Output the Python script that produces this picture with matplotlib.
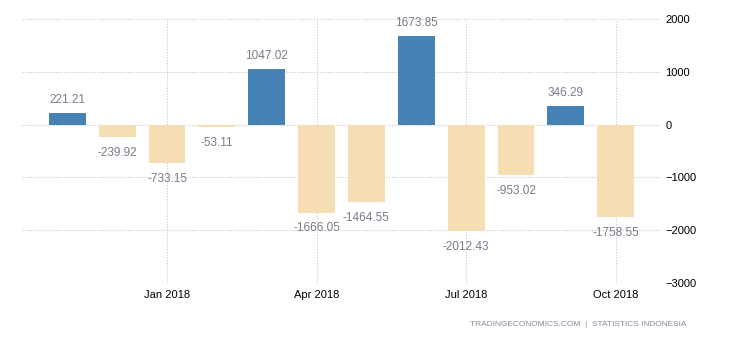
import matplotlib.pyplot as plt

# monthly values, Nov 2017 .. Oct 2018
months = ['Nov 2017', 'Dec 2017', 'Jan 2018', 'Feb 2018', 'Mar 2018', 'Apr 2018',
          'May 2018', 'Jun 2018', 'Jul 2018', 'Aug 2018', 'Sep 2018', 'Oct 2018']
values = [221.21, -239.92, -733.15, -53.11, 1047.02, -1666.05,
          -1464.55, 1673.85, -2012.43, -953.02, 346.29, -1758.55]
tick_months = ['Jan 2018', 'Apr 2018', 'Jul 2018', 'Oct 2018']
yticks = [2000, 1000, 0, -1000, -2000, -3000]

plt.rcParams['font.family'] = ['Liberation Sans', 'DejaVu Sans']

fig = plt.figure(figsize=(7.3, 3.4), dpi=100)
ax = fig.add_axes([22 / 730, 1 - 283 / 340, (661 - 22) / 730, (283 - 19) / 340])

x = list(range(len(values)))
colors = ['#4682b4' if v >= 0 else '#f5deb3' for v in values]
ax.bar(x, values, width=0.74, color=colors, zorder=2)

for xi, v in zip(x, values):
    if v >= 0:
        ax.annotate(f'{v:.2f}', (xi, v), xytext=(0, 5), textcoords='offset points',
                    ha='center', va='bottom', fontsize=8.5, color='#7a7a8c')
    else:
        ax.annotate(f'{v:.2f}', (xi, v), xytext=(0, -7), textcoords='offset points',
                    ha='center', va='top', fontsize=8.5, color='#7a7a8c')

ax.set_xlim(-0.91, len(values) - 1 + 0.91)
ax.set_ylim(-3000, 2000)
ax.set_xticks([months.index(m) for m in tick_months])
ax.set_xticklabels(tick_months)
ax.set_yticks(yticks)
ax.yaxis.tick_right()
ax.tick_params(length=0, labelsize=8, colors='black')
ax.tick_params(axis='y', pad=3)
ax.tick_params(axis='x', pad=5)

ax.grid(True, color='#c8c8c8', linestyle=(0, (1, 1.5)), linewidth=0.8, zorder=0)
ax.set_axisbelow(True)
for s in ax.spines.values():
    s.set_visible(False)

fig.text(686 / 730, 1 - 325 / 340, 'TRADINGECONOMICS.COM  |  STATISTICS INDONESIA',
         ha='right', va='center', fontsize=6, color='#8a8a9a')

fig.savefig('out.png', dpi=100)
